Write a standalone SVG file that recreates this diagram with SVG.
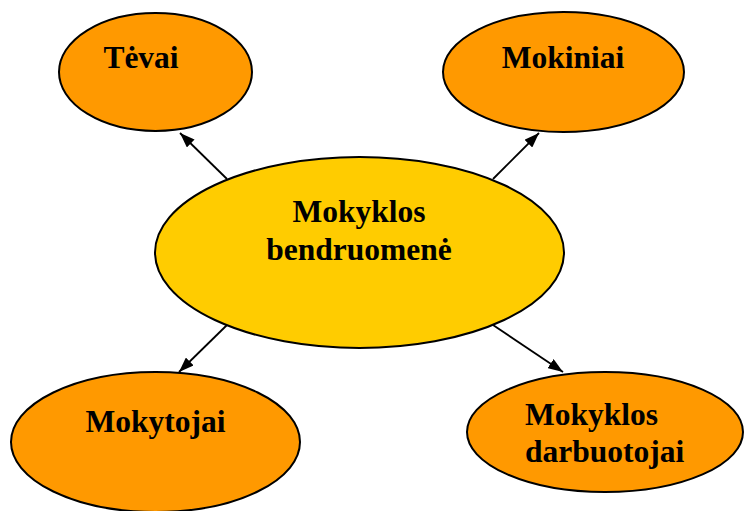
<svg xmlns="http://www.w3.org/2000/svg" width="744" height="511" viewBox="0 0 744 511">
<defs>
<style>
.outer{fill:#FF9900;stroke:#000;stroke-width:2}
.center{fill:#FFCC00;stroke:#000;stroke-width:2}
.lbl{font-family:"Liberation Serif","Times New Roman",serif;font-weight:bold;font-size:31.5px;fill:#000}
.conn{stroke:#000;stroke-width:1.8;fill:none;marker-end:url(#ah)}
</style>
<marker id="ah" viewBox="0 0 10 10" refX="10" refY="5" markerWidth="15" markerHeight="11" markerUnits="userSpaceOnUse" orient="auto" preserveAspectRatio="none">
<path d="M0,0 L10,5 L0,10 z" fill="#000"/>
</marker>
</defs>
<rect width="744" height="511" fill="#fff"/>
<g id="connectors">
<line class="conn" x1="227" y1="179" x2="180" y2="133"/>
<line class="conn" x1="493" y1="179" x2="539" y2="133"/>
<line class="conn" x1="227" y1="325" x2="179" y2="372"/>
<line class="conn" x1="493" y1="325" x2="563" y2="372"/>
</g>
<g id="tevai">
<ellipse class="outer" cx="155.5" cy="72" rx="96.5" ry="59"/>
<text class="lbl" x="141" y="68" text-anchor="middle">Tėvai</text>
</g>
<g id="mokiniai">
<ellipse class="outer" cx="563.5" cy="72" rx="120.5" ry="60"/>
<text class="lbl" x="563" y="68" text-anchor="middle">Mokiniai</text>
</g>
<g id="bendruomene">
<ellipse class="center" cx="359.5" cy="252.5" rx="204.5" ry="95.5"/>
<text class="lbl" x="359" y="222" text-anchor="middle">Mokyklos</text>
<text class="lbl" x="359" y="260" text-anchor="middle">bendruomenė</text>
</g>
<g id="mokytojai">
<ellipse class="outer" cx="155.5" cy="442" rx="144.5" ry="70"/>
<text class="lbl" x="155.5" y="432" text-anchor="middle">Mokytojai</text>
</g>
<g id="darbuotojai">
<ellipse class="outer" cx="605" cy="432" rx="138" ry="60"/>
<text class="lbl" x="525" y="425">Mokyklos</text>
<text class="lbl" x="525" y="462">darbuotojai</text>
</g>
</svg>
